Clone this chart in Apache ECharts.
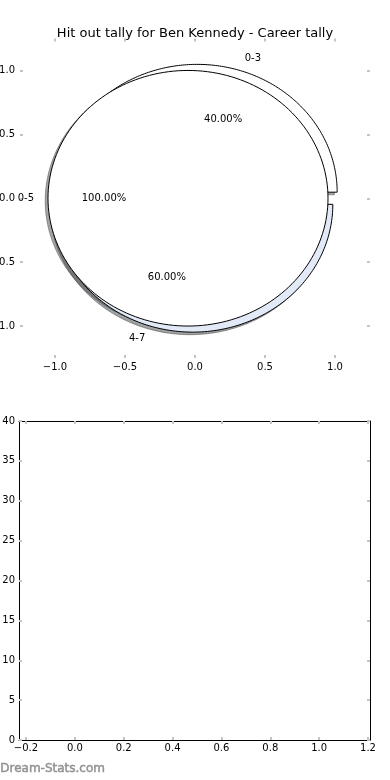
<!DOCTYPE html>
<html>
<head>
<meta charset="utf-8">
<script src="https://cdn.jsdelivr.net/npm/echarts@6/dist/echarts.min.js"></script>
<style>html,body{margin:0;padding:0;background:#fff;}#c{width:390px;height:780px;}</style>
</head>
<body>
<div id="c"></div>
<script>
// ---- data ----
const titleText = 'Hit out tally for Ben Kennedy - Career tally';
const pieA_labels = ['0-3', '4-7'];
const pieA_values = [40, 60];
const pieB_labels = ['0-5'];
const pieB_values = [100];
const topXTicks = [-1.0, -0.5, 0.0, 0.5, 1.0];
const topYTicks = [-1.0, -0.5, 0.0, 0.5, 1.0];
const bottomXTicks = [-0.2, 0.0, 0.2, 0.4, 0.6, 0.8, 1.0, 1.2];
const bottomYTicks = [0, 5, 10, 15, 20, 25, 30, 35, 40];
const watermark = 'Dream-Stats.com';

// ---- styles ----
const FONT = 'DejaVu Sans';
const pieA_colors = ['#ffffff', '#e2eaf8'];
const pieB_colors = ['#ffffff'];
const EXPLODE = 0.05;
const TICK = {show: true, inside: true, length: 3, lineStyle: {color: '#c4c4c4', width: 2}};
const HIDDEN_LINE = {show: true, onZero: false, lineStyle: {color: 'rgba(0,0,0,0)', width: 1}};
const BLACK_LINE = {show: true, onZero: false, lineStyle: {color: '#000', width: 1}};

function buildWedges(values, labels, colors) {
  const total = values.reduce((a, b) => a + b, 0);
  let t = 0;
  return values.map((v, i) => {
    const t1 = t, t2 = t + 360 * v / total;
    t = t2;
    const mid = (t1 + t2) / 2 * Math.PI / 180;
    return {t1, t2, mid, cx: EXPLODE * Math.cos(mid), cy: EXPLODE * Math.sin(mid),
            label: labels[i], pct: 100 * v / total, color: colors[i]};
  });
}
const wedgesA = buildWedges(pieA_values, pieA_labels, pieA_colors);
const wedgesB = buildWedges(pieB_values, pieB_labels, pieB_colors);
const allWedges = wedgesA.concat(wedgesB);

function wedgePoints(api, w, ox, oy) {
  const pts = [];
  const full = (w.t2 - w.t1) >= 359.999;
  if (!full) pts.push(api.coord([w.cx + ox, w.cy + oy]));
  const n = 180;
  for (let k = 0; k <= n; k++) {
    const a = (w.t1 + (w.t2 - w.t1) * k / n) * Math.PI / 180;
    pts.push(api.coord([w.cx + ox + Math.cos(a), w.cy + oy + Math.sin(a)]));
  }
  return pts;
}
function shadowColor(hex) {
  const r = parseInt(hex.slice(1, 3), 16), g = parseInt(hex.slice(3, 5), 16), b = parseInt(hex.slice(5, 7), 16);
  return 'rgba(' + Math.round(r * 0.3) + ',' + Math.round(g * 0.3) + ',' + Math.round(b * 0.3) + ',0.5)';
}
function wedgeSeries(ws) {
  return {
    type: 'custom', xAxisIndex: 0, yAxisIndex: 0, clip: false, silent: true,
    data: ws.map(w => [w.cx, w.cy]),
    renderItem: (params, api) => {
      const w = ws[params.dataIndex];
      return {type: 'polygon', shape: {points: wedgePoints(api, w, 0, 0)},
              style: {fill: w.color, stroke: '#000', lineWidth: 1}};
    }
  };
}
const shadowSeries = {
  type: 'custom', xAxisIndex: 0, yAxisIndex: 0, clip: false, silent: true,
  data: allWedges.map(w => [w.cx, w.cy]),
  renderItem: (params, api) => {
    const w = allWedges[params.dataIndex];
    const c = shadowColor(w.color);
    return {type: 'polygon', shape: {points: wedgePoints(api, w, -0.02, -0.02)},
            style: {fill: c, stroke: c, lineWidth: 1}};
  }
};
const textSeries = {
  type: 'custom', xAxisIndex: 0, yAxisIndex: 0, clip: false, silent: true,
  data: allWedges.map(w => [w.cx, w.cy]),
  renderItem: (params, api) => {
    const w = allWedges[params.dataIndex];
    const lx = w.cx + 1.1 * Math.cos(w.mid), ly = w.cy + 1.1 * Math.sin(w.mid);
    const px = w.cx + 0.6 * Math.cos(w.mid), py = w.cy + 0.6 * Math.sin(w.mid);
    const lp = api.coord([lx, ly]), pp = api.coord([px, py]);
    return {type: 'group', children: [
      {type: 'text', x: lp[0], y: lp[1], style: {text: w.label, font: '10px "' + FONT + '"', fill: '#000',
        align: lx > 0 ? 'left' : 'right', verticalAlign: 'middle'}},
      {type: 'text', x: pp[0], y: pp[1], style: {text: w.pct.toFixed(2) + '%', font: '10px "' + FONT + '"', fill: '#000',
        align: 'center', verticalAlign: 'middle'}}
    ]};
  }
};

const fmt = v => Number(v).toFixed(1).replace('-', '\u2212');
const labelStyle = {fontFamily: FONT, fontSize: 10, color: '#000'};

const option = {
  animation: false,
  backgroundColor: '#fff',
  title: {text: titleText, left: 'center', top: 22,
          textStyle: {fontFamily: FONT, fontSize: 13, fontWeight: 'normal', color: '#000'}},
  graphic: [{type: 'text', left: 0, top: 763,
             style: {text: watermark, font: '12px "' + FONT + '"', fill: '#939393',
                     stroke: '#939393', lineWidth: 0.5}}],
  grid: [
    {left: 20, width: 350, top: 38.5, height: 319.5, containLabel: false, outerBoundsMode: 'none'},
    {left: 19, width: 351, top: 421, height: 319, containLabel: false, outerBoundsMode: 'none'}
  ],
  xAxis: [
    {gridIndex: 0, type: 'value', min: -1.25, max: 1.25, position: 'bottom',
     axisLine: HIDDEN_LINE, splitLine: {show: false}, axisTick: Object.assign({customValues: topXTicks}, TICK),
     axisLabel: Object.assign({customValues: topXTicks, margin: 4, formatter: fmt}, labelStyle)},
    {gridIndex: 0, type: 'value', min: -1.25, max: 1.25, position: 'top',
     axisLine: HIDDEN_LINE, splitLine: {show: false}, axisTick: Object.assign({customValues: topXTicks}, TICK),
     axisLabel: {show: false}},
    {gridIndex: 1, type: 'value', min: -0.2287, max: 1.2082, position: 'bottom',
     axisLine: BLACK_LINE, splitLine: {show: false},
     axisTick: Object.assign({customValues: bottomXTicks}, TICK),
     axisLabel: Object.assign({customValues: bottomXTicks, margin: 3, formatter: fmt}, labelStyle)},
    {gridIndex: 1, type: 'value', min: -0.2287, max: 1.2082, position: 'top',
     axisLine: BLACK_LINE, splitLine: {show: false},
     axisTick: Object.assign({customValues: bottomXTicks}, TICK), axisLabel: {show: false}}
  ],
  yAxis: [
    {gridIndex: 0, type: 'value', min: -1.25, max: 1.25, position: 'left',
     axisLine: HIDDEN_LINE, splitLine: {show: false}, axisTick: Object.assign({customValues: topYTicks}, TICK),
     axisLabel: Object.assign({customValues: topYTicks, margin: 5, formatter: fmt}, labelStyle)},
    {gridIndex: 0, type: 'value', min: -1.25, max: 1.25, position: 'right',
     axisLine: HIDDEN_LINE, splitLine: {show: false}, axisTick: Object.assign({customValues: topYTicks}, TICK),
     axisLabel: {show: false}},
    {gridIndex: 1, type: 'value', min: 0, max: 40, position: 'left',
     axisLine: BLACK_LINE, splitLine: {show: false},
     axisTick: Object.assign({customValues: bottomYTicks}, TICK),
     axisLabel: Object.assign({customValues: bottomYTicks, margin: 4, formatter: v => String(v)}, labelStyle)},
    {gridIndex: 1, type: 'value', min: 0, max: 40, position: 'right',
     axisLine: BLACK_LINE, splitLine: {show: false},
     axisTick: Object.assign({customValues: bottomYTicks}, TICK), axisLabel: {show: false}}
  ],
  series: [shadowSeries, wedgeSeries(wedgesA), wedgeSeries(wedgesB), textSeries,
    {type: 'line', xAxisIndex: 2, yAxisIndex: 2, data: [], silent: true}]
};
const chart = echarts.init(document.getElementById('c'), null, {renderer: 'canvas'});
chart.setOption(option);
</script>
</body>
</html>
